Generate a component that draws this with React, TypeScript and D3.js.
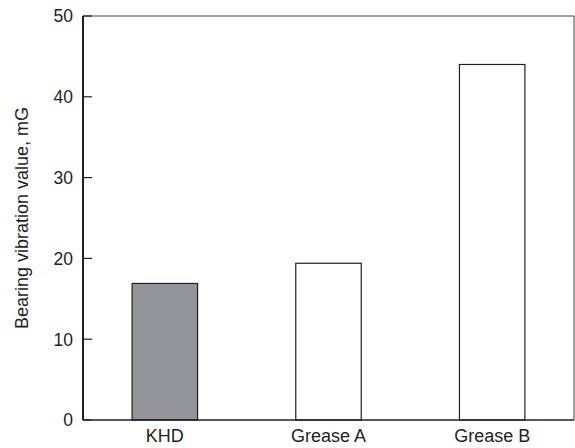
// App.tsx
import React, { useEffect, useRef } from 'react';
import * as d3 from 'd3';

const categories = ['KHD', 'Grease A', 'Grease B'];
const values = [16.9, 19.4, 44];
const fills = ['#939598', '#ffffff', '#ffffff'];
const yTicks = [0, 10, 20, 30, 40, 50];

const App = () => {
  const ref = useRef<SVGSVGElement>(null);

  useEffect(() => {
    const svg = d3.select(ref.current);
    svg.selectAll('*').remove();

    const left = 83;
    const right = 574;
    const top = 16;
    const bottom = 420;
    const font = '"Liberation Sans", Arial, sans-serif';

    const x = d3.scaleBand<string>()
      .domain(categories)
      .range([left, right])
      .paddingInner(0.6)
      .paddingOuter(0.3);

    const y = d3.scaleLinear().domain([0, 50]).range([bottom, top]);

    // bars
    svg.selectAll('.bar')
      .data(categories)
      .enter()
      .append('rect')
      .attr('class', 'bar')
      .attr('x', d => x(d)!)
      .attr('y', (d, i) => y(values[i]))
      .attr('width', x.bandwidth())
      .attr('height', (d, i) => bottom - y(values[i]))
      .attr('fill', (d, i) => fills[i])
      .attr('stroke', '#231f20')
      .attr('stroke-width', 1.2);

    // frame
    svg.append('line')
      .attr('x1', left).attr('x2', right).attr('y1', top).attr('y2', top)
      .attr('stroke', '#444').attr('stroke-width', 1);
    svg.append('line')
      .attr('x1', right).attr('x2', right).attr('y1', top).attr('y2', bottom)
      .attr('stroke', '#444').attr('stroke-width', 1);
    svg.append('line')
      .attr('x1', left).attr('x2', right).attr('y1', bottom).attr('y2', bottom)
      .attr('stroke', '#231f20').attr('stroke-width', 1.5);
    svg.append('line')
      .attr('x1', left).attr('x2', left).attr('y1', top).attr('y2', bottom)
      .attr('stroke', '#231f20').attr('stroke-width', 2);

    // y ticks (inward)
    const yAxis = svg.append('g');
    yTicks.forEach(t => {
      yAxis.append('line')
        .attr('x1', left).attr('x2', left + 9)
        .attr('y1', y(t)).attr('y2', y(t))
        .attr('stroke', '#231f20').attr('stroke-width', 1.2);
      yAxis.append('text')
        .attr('x', left - 10)
        .attr('y', y(t))
        .attr('dy', '0.36em')
        .attr('text-anchor', 'end')
        .style('font-family', font)
        .style('font-size', '17.5px')
        .attr('fill', '#231f20')
        .text(t);
    });

    // category labels
    svg.selectAll('.cat')
      .data(categories)
      .enter()
      .append('text')
      .attr('class', 'cat')
      .attr('x', d => x(d)! + x.bandwidth() / 2)
      .attr('y', 441.5)
      .attr('text-anchor', 'middle')
      .style('font-family', font)
      .style('font-size', '18px')
      .attr('fill', '#231f20')
      .text(d => d);

    // y axis title
    svg.append('text')
      .attr('transform', `translate(28,${(top + bottom) / 2}) rotate(-90)`)
      .attr('text-anchor', 'middle')
      .style('font-family', font)
      .style('font-size', '18px')
      .attr('fill', '#231f20')
      .text('Bearing vibration value, mG');
  }, []);

  return (
    <svg
      ref={ref}
      width={575}
      height={448}
      style={{ position: 'absolute', left: 0, top: 0, background: '#fff' }}
    />
  );
};

export default App;
